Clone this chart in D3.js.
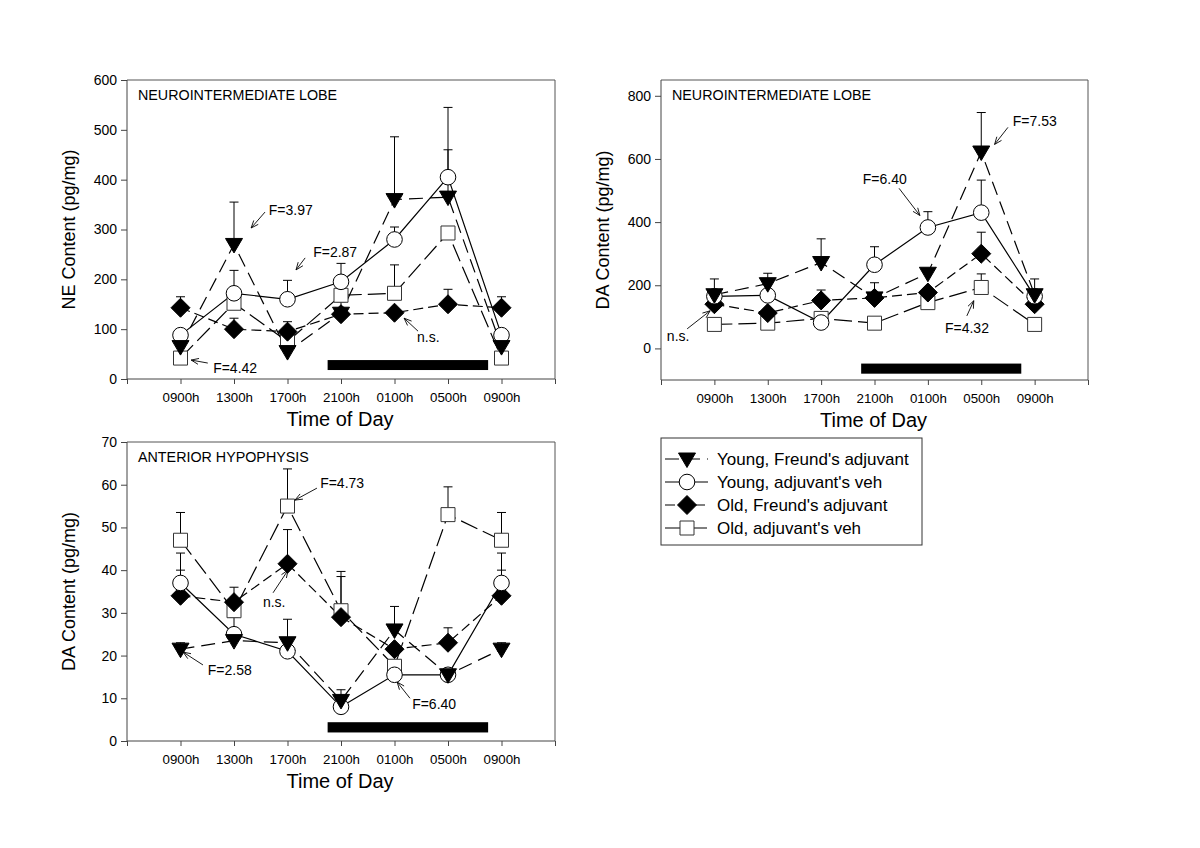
<!DOCTYPE html>
<html><head><meta charset="utf-8">
<script src="https://cdn.jsdelivr.net/npm/d3@7"></script>
<style>
html,body{margin:0;padding:0;background:#fff;}
svg text{font-family:Arial,"Liberation Sans",sans-serif;fill:#000;}
</style></head>
<body>
<svg id="chart" width="1200" height="848"></svg>
<script>
// ---------- data ----------
const timeLabels = ["0900h","1300h","1700h","2100h","0100h","0500h","0900h"];
const seriesNames = ["Young, Freund's adjuvant","Young, adjuvant's veh","Old, Freund's adjuvant","Old, adjuvant's veh"];
const seriesMarkers = ["triangle","circle","diamond","square"];
const seriesDash = ["14,7", null, "10,5", "18,6"];

// Panel A: NE content, neurointermediate lobe (mean, SEM)
const neNIL_yf = [65, 270, 55, 132, 360, 365, 65];
const neNIL_yf_sem = [0, 85, 0, 0, 126, 95, 0];
const neNIL_yv = [88, 172, 160, 195, 280, 405, 88];
const neNIL_yv_sem = [0, 46, 38, 37, 25, 140, 0];
const neNIL_of = [143, 100, 95, 130, 133, 150, 143];
const neNIL_of_sem = [22, 22, 20, 25, 0, 30, 22];
const neNIL_ov = [42, 152, 75, 168, 172, 293, 42];
const neNIL_ov_sem = [0, 0, 0, 0, 57, 0, 0];
const neNIL_ticks = [0,100,200,300,400,500,600];

// Panel B: DA content, neurointermediate lobe
const daNIL_yf = [170, 205, 272, 160, 238, 622, 170];
const daNIL_yf_sem = [50, 33, 75, 0, 0, 125, 50];
const daNIL_yv = [165, 168, 82, 265, 383, 430, 165];
const daNIL_yv_sem = [0, 0, 0, 57, 50, 103, 0];
const daNIL_of = [140, 112, 152, 160, 177, 300, 140];
const daNIL_of_sem = [0, 0, 33, 48, 0, 68, 0];
const daNIL_ov = [76, 80, 95, 80, 145, 193, 76];
const daNIL_ov_sem = [0, 0, 0, 0, 0, 43, 0];
const daNIL_ticks = [0,200,400,600,800];

// Panel C: DA content, anterior hypophysis
const daAH_yf = [21.5, 23.5, 23, 9.5, 26, 15.5, 21.5];
const daAH_yf_sem = [1.5, 0, 5.5, 2.5, 5.5, 1.5, 1.5];
const daAH_yv = [37, 25, 21, 8, 15.5, 15.5, 37];
const daAH_yv_sem = [7, 4, 0, 0, 0, 0, 7];
const daAH_of = [34, 32.5, 41.5, 29, 21.5, 23, 34];
const daAH_of_sem = [6, 3.5, 8, 9.5, 0, 3.5, 6];
const daAH_ov = [47, 30.5, 55, 30.5, 17.5, 53, 47];
const daAH_ov_sem = [6.5, 0, 8.7, 9.2, 0, 6.5, 6.5];
const daAH_ticks = [0,10,20,30,40,50,60,70];

// dark-phase bar: [x start, x end] in time index units; y in value units
const darkBarX = [2.75, 5.75];
const neNIL_bar = [18, 38];
const daNIL_bar = [-80, -48];
const daAH_bar = [2, 4.4];

// annotations: text, text anchor (index, value), arrow from (index,value) to (index,value)
const neNIL_notes = [
  {t:"F=3.97", tx:1.65, ty:329, ax:[1.58,335], ah:[1.32,303]},
  {t:"F=2.87", tx:2.48, ty:245, ax:[2.33,243], ah:[2.16,219]},
  {t:"F=4.42", tx:0.61, ty:12, ax:[0.51,32], ah:[0.20,38]},
  {t:"n.s.", tx:4.42, ty:74, ax:[4.44,96], ah:[4.18,122]}
];
const daNIL_notes = [
  {t:"F=7.53", tx:5.59, ty:704, ax:[5.50,700], ah:[5.25,646]},
  {t:"F=6.40", tx:2.78, ty:520, ax:[3.46,507], ah:[3.85,421]},
  {t:"F=4.32", tx:4.32, ty:49, ax:[4.73,103], ah:[4.86,151]},
  {t:"n.s.", tx:-0.89, ty:24, ax:[-0.51,62], ah:[-0.08,119]}
];
const daAH_notes = [
  {t:"F=4.73", tx:2.61, ty:59.2, ax:[2.55,59.2], ah:[2.14,56.4]},
  {t:"n.s.", tx:1.54, ty:31.4, ax:[1.73,34.7], ah:[2.01,40]},
  {t:"F=2.58", tx:0.51, ty:15.5, ax:[0.42,17.8], ah:[0.05,20.8]},
  {t:"F=6.40", tx:4.33, ty:7.5, ax:[4.29,10], ah:[4.05,13.8]}
];

// ---------- drawing ----------
const svg = d3.select("#chart");

function markerPath(type){
  if(type==="triangle") return "M-8.5,-6L8.5,-6L0,8.5Z";
  if(type==="diamond") return "M0,-9.5L9.5,0L0,9.5L-9.5,0Z";
  if(type==="square") return "M-7,-7L7,-7L7,7L-7,7Z";
  return null;
}
function drawMarker(g, type, x, y){
  if(type==="circle"){
    g.append("circle").attr("cx",x).attr("cy",y).attr("r",7.8)
      .attr("fill","#fff").attr("stroke","#000").attr("stroke-width",1);
  } else {
    const filled = (type==="triangle"||type==="diamond");
    g.append("path").attr("d",markerPath(type))
      .attr("transform",`translate(${x},${y})`)
      .attr("fill",filled?"#000":"#fff")
      .attr("stroke",filled?"#000":"#333").attr("stroke-width",1);
  }
}

function drawPanel(p){
  const g = svg.append("g");
  const x = d3.scaleLinear().domain([-1,7]).range([p.left,p.right]);
  const y = d3.scaleLinear().domain(p.ydomain).range([p.bottom,p.top]);

  // frame (top & right)
  g.append("path").attr("d",`M${p.left},${p.top}H${p.right}V${p.bottom}`)
    .attr("fill","none").attr("stroke","#555").attr("stroke-width",1);

  // axes
  const yAxis = d3.axisLeft(y).tickValues(p.ticks).tickSize(6).tickPadding(4).tickFormat(d3.format("d"));
  const ya = g.append("g").attr("transform",`translate(${p.left},0)`).call(yAxis);
  const xAxis = d3.axisBottom(x).tickValues(d3.range(-1,8)).tickSize(5).tickPadding(9)
    .tickFormat(d=> (d>=0&&d<=6)? timeLabels[d] : "");
  const xa = g.append("g").attr("transform",`translate(0,${p.bottom})`).call(xAxis);
  [ya,xa].forEach(a=>{
    a.select(".domain").attr("stroke","#444");
    a.selectAll(".tick line").attr("stroke","#444");
    a.selectAll("text").attr("font-family","Arial, Liberation Sans, sans-serif").attr("fill","#000");
  });
  ya.selectAll("text").attr("font-size",14);
  xa.selectAll("text").attr("font-size",13.3);
  xa.select(".domain").attr("d",`M${p.left},0H${p.right}`);
  ya.select(".domain").attr("d",`M0,${p.bottom}V${p.top}`);

  // titles
  g.append("text").attr("x",(p.left+p.right)/2 - 1).attr("y",p.bottom+47)
    .attr("text-anchor","middle").attr("font-size",20).text("Time of Day");
  g.append("text").attr("transform",`translate(${p.left-52},${(p.top+p.bottom)/2}) rotate(-90)`)
    .attr("text-anchor","middle").attr("font-size",18).text(p.ytitle);
  g.append("text").attr("x",p.left+11).attr("y",p.top+20).attr("font-size",14.3).text(p.label);

  // dark bar
  g.append("rect").attr("x",x(darkBarX[0])).attr("width",x(darkBarX[1])-x(darkBarX[0]))
    .attr("y",y(p.bar[1])).attr("height",y(p.bar[0])-y(p.bar[1])).attr("fill","#000");

  // lines
  const line = d3.line().x((d,i)=>x(i)).y(d=>y(d));
  const order = [3,2,1,0];
  order.forEach(s=>{
    g.append("path").datum(p.values[s]).attr("d",line).attr("fill","none")
      .attr("stroke","#000").attr("stroke-width",1.2)
      .attr("stroke-dasharray",seriesDash[s]);
  });
  // error bars (upper)
  order.forEach(s=>{
    p.values[s].forEach((v,i)=>{
      const e = p.sems[s][i];
      if(!e) return;
      const cx = x(i), y0=y(v), y1=y(v+e);
      g.append("line").attr("x1",cx).attr("x2",cx).attr("y1",y0).attr("y2",y1).attr("stroke","#000").attr("stroke-width",1);
      g.append("line").attr("x1",cx-4.5).attr("x2",cx+4.5).attr("y1",y1).attr("y2",y1).attr("stroke","#000").attr("stroke-width",1);
    });
  });
  // markers
  order.forEach(s=>{
    p.values[s].forEach((v,i)=> drawMarker(g, seriesMarkers[s], x(i), y(v)));
  });

  // annotations
  p.notes.forEach(n=>{
    g.append("text").attr("x",x(n.tx)).attr("y",y(n.ty)).attr("font-size",14).text(n.t);
    const x1=x(n.ax[0]), y1=y(n.ax[1]), x2=x(n.ah[0]), y2=y(n.ah[1]);
    g.append("line").attr("x1",x1).attr("y1",y1).attr("x2",x2).attr("y2",y2).attr("stroke","#000").attr("stroke-width",0.9);
    const ang = Math.atan2(y1-y2, x1-x2), L=8, w=0.38;
    const hp = `M${x2+L*Math.cos(ang+w)},${y2+L*Math.sin(ang+w)}L${x2},${y2}L${x2+L*Math.cos(ang-w)},${y2+L*Math.sin(ang-w)}`;
    g.append("path").attr("d",hp).attr("fill","none").attr("stroke","#000").attr("stroke-width",0.9);
  });
}

drawPanel({left:127,right:555,top:80,bottom:379,ydomain:[0,600],ticks:neNIL_ticks,
  ytitle:"NE Content (pg/mg)",label:"NEUROINTERMEDIATE LOBE",bar:neNIL_bar,
  values:[neNIL_yf,neNIL_yv,neNIL_of,neNIL_ov],sems:[neNIL_yf_sem,neNIL_yv_sem,neNIL_of_sem,neNIL_ov_sem],notes:neNIL_notes});
drawPanel({left:661,right:1088,top:80,bottom:380,ydomain:[-100,850],ticks:daNIL_ticks,
  ytitle:"DA Content (pg/mg)",label:"NEUROINTERMEDIATE LOBE",bar:daNIL_bar,
  values:[daNIL_yf,daNIL_yv,daNIL_of,daNIL_ov],sems:[daNIL_yf_sem,daNIL_yv_sem,daNIL_of_sem,daNIL_ov_sem],notes:daNIL_notes});
drawPanel({left:127,right:555,top:442,bottom:741,ydomain:[0,70],ticks:daAH_ticks,
  ytitle:"DA Content (pg/mg)",label:"ANTERIOR HYPOPHYSIS",bar:daAH_bar,
  values:[daAH_yf,daAH_yv,daAH_of,daAH_ov],sems:[daAH_yf_sem,daAH_yv_sem,daAH_of_sem,daAH_ov_sem],notes:daAH_notes});

// legend
const lg = svg.append("g");
lg.append("rect").attr("x",661).attr("y",438).attr("width",261).attr("height",107)
  .attr("fill","#fff").attr("stroke","#333").attr("stroke-width",1);
const rowY = d3.scalePoint().domain(d3.range(4)).range([459,528]);
d3.range(4).forEach(s=>{
  const yy = rowY(s);
  lg.append("line").attr("x1",665).attr("x2",708).attr("y1",yy).attr("y2",yy)
    .attr("stroke","#000").attr("stroke-width",1.2).attr("stroke-dasharray",seriesDash[s]);
  drawMarker(lg, seriesMarkers[s], 687, yy);
  lg.append("text").attr("x",717).attr("y",yy+6).attr("font-size",17).text(seriesNames[s]);
});
</script>
</body></html>
